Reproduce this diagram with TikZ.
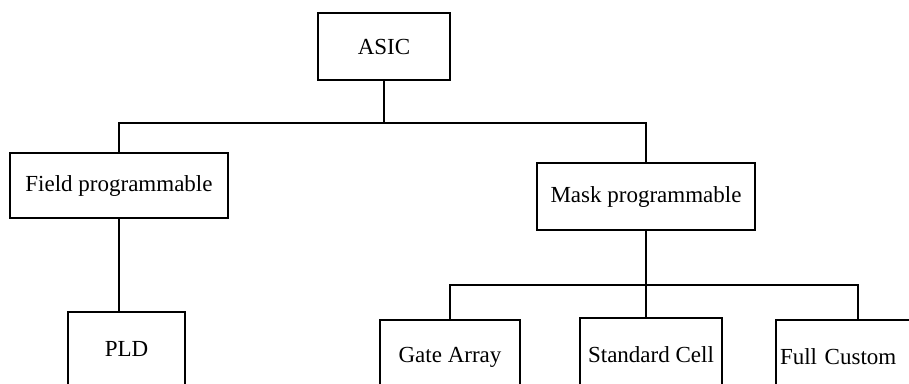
\documentclass[tikz,border=0pt]{standalone}
\usepackage{fontspec}
\setmainfont{Liberation Serif}
\usetikzlibrary{positioning,calc}

\begin{document}
\begin{tikzpicture}[
  x=1pt, y=-1pt,
  font=\fontsize{23}{27}\selectfont,
  line width=1.3pt,
  unit/.style={draw, align=center, inner sep=2pt},
  leaf/.style={unit, minimum height=74pt}
]
  \useasboundingbox (0,0) rectangle (909,383);
  \clip (0,0) rectangle (909,383);

  % top level
  \node[unit, minimum width=132pt, minimum height=67pt] (asic) at (384,46.5) {ASIC};
  \node[unit, minimum width=218pt, minimum height=65pt] (field) at (119,185.5) {Field programmable};
  \node[unit, minimum width=218pt, minimum height=67pt] (mask) at (646,196.5) {Mask programmable};

  % leaves
  \node[leaf, minimum width=117pt] (pld) at (126.5,349) {PLD};
  \node[leaf, minimum width=140pt] (gate) at (450,357) {Gate Array};
  \node[leaf, minimum width=142pt] (std) at (651,355) {Standard Cell};
  \node[leaf, text width=156pt, inner xsep=4pt, align=left] (full) at (858,357) {Full Custom};

  \coordinate (bar1) at (384,123);
  \coordinate (bar2) at (646,285);

  \draw (asic.south) -- (bar1);
  \draw (field.north) |- (bar1) -| (mask.north);
  \draw (field.south) -- (field.south |- pld.north);
  \draw (mask.south) -- (bar2);
  \draw (gate.north) |- (bar2) -| (full.north);
  \draw (bar2) -- (bar2 |- std.north);
\end{tikzpicture}
\end{document}
